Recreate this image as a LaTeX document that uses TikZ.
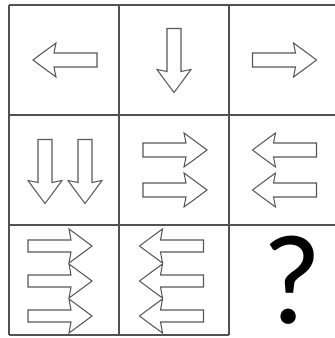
\documentclass[tikz,border=0pt]{standalone}
\usepackage{fontspec}
\newfontfamily\qfont{Carlito}
\tikzset{
  gridline/.style={draw=black!68, line width=1.2pt},
  arrowline/.style={draw=black!66, line width=1.05pt, line join=miter},
  pics/arrowshape/.style={code={
    \draw[arrowline] (-32,-#1) -- (11,-#1) -- (9,-17)
      .. controls (22,-7.5) .. (32,0)
      .. controls (22,7.5) .. (9,17) -- (11,#1) -- (-32,#1) -- cycle;
  }},
  qmark/.style={inner sep=0pt, font=\qfont\fontsize{128}{128}\selectfont, text=black},
}
\begin{document}
\begin{tikzpicture}[x=1pt,y=-1pt]
  \useasboundingbox (0,0) rectangle (335,338);
  % grid
  \draw[gridline] (9,5) -- (335,5);
  \draw[gridline] (9,115) -- (335,115);
  \draw[gridline] (9,225) -- (335,225);
  \draw[gridline] (9,335) -- (229,335);
  \draw[gridline] (9,5) -- (9,335);
  \draw[gridline] (119,5) -- (119,335);
  \draw[gridline] (229,5) -- (229,335);
  % row 1
  \pic[rotate=180] at (65,60) {arrowshape=7};
  \pic[rotate=-90] at (174,60.5) {arrowshape=7};
  \pic at (284.5,60) {arrowshape=7};
  % row 2
  \pic[rotate=-90] at (45,171.5) {arrowshape=7};
  \pic[rotate=-90] at (85,171.5) {arrowshape=7};
  \pic at (175,150) {arrowshape=7};
  \pic at (175,190) {arrowshape=7};
  \pic[rotate=180] at (284.5,150) {arrowshape=7};
  \pic[rotate=180] at (284.5,190) {arrowshape=7};
  % row 3
  \pic at (60,246) {arrowshape=6};
  \pic at (60,281) {arrowshape=6};
  \pic at (60,316) {arrowshape=6};
  \pic[rotate=180] at (171.5,246) {arrowshape=6};
  \pic[rotate=180] at (171.5,281) {arrowshape=6};
  \pic[rotate=180] at (171.5,316) {arrowshape=6};
  % question mark
  \node[qmark] (q) at (292.5,280.5) {?};
\end{tikzpicture}
\end{document}
